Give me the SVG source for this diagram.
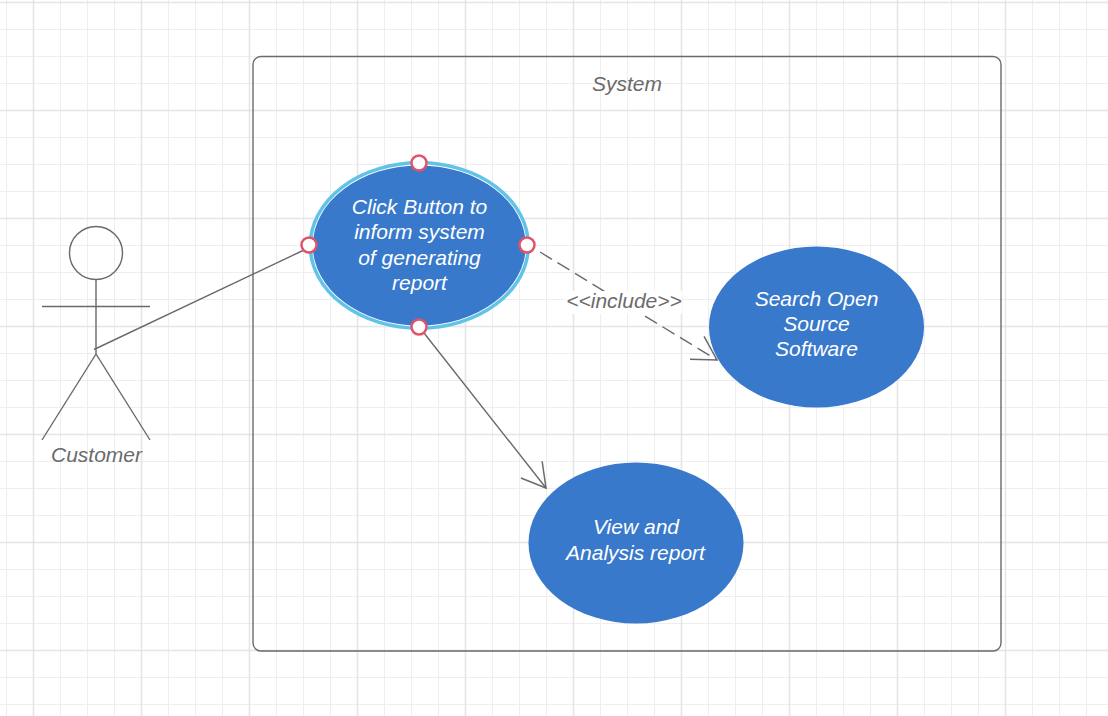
<svg xmlns="http://www.w3.org/2000/svg" width="1108" height="716" viewBox="0 0 1108 716">
<defs>
<pattern id="minor" x="-7" y="-11" width="27" height="27" patternUnits="userSpaceOnUse"><path d="M13.500 0V27M0 13.500H27" fill="none" stroke="#eeeeee" stroke-width="1"/></pattern>
<pattern id="major" x="-20.500" y="-51.500" width="108" height="108" patternUnits="userSpaceOnUse"><path d="M54 0V108M0 54H108" fill="none" stroke="#dedede" stroke-width="1"/></pattern>
<marker id="open" markerUnits="userSpaceOnUse" markerWidth="34" markerHeight="34" refX="29" refY="15" orient="auto" overflow="visible"><path d="M5.600 1.500L29 15L5.600 28.500" fill="none" stroke="#6a6a6a" stroke-width="1.500"/></marker>
</defs>
<style>
text{font-family:"Liberation Sans",Arial,sans-serif;font-style:italic;font-size:21px;text-anchor:middle}
.w{fill:#fff}
.d{fill:#6b6b6b}
.l{fill:none;stroke:#6a6a6a;stroke-width:1.400}
.u{fill:#3879cb}
.h{fill:#fff;stroke:#e0536a;stroke-width:2.500}
</style>
<rect width="1108" height="716" fill="#fff"/>
<g id="grid"><rect width="1108" height="716" fill="url(#minor)"/><rect width="1108" height="716" fill="url(#major)"/></g>
<g id="system"><rect class="l" x="253" y="56.500" width="748" height="594.500" rx="8" ry="8"/><text class="d" x="627" y="91">System</text></g>
<g id="connectors">
<path class="l" d="M94 349.500L303 250.500"/>
<path class="l" d="M424 333L546 488" marker-end="url(#open)"/>
<path class="l" d="M540 252L717 360" stroke-dasharray="14 6.500" marker-end="url(#open)"/>
<rect x="566" y="291" width="116" height="23" fill="#fff"/>
<text class="d" x="624" y="308">&lt;&lt;include&gt;&gt;</text>
</g>
<g id="customer">
<circle class="l" cx="96" cy="253" r="26.500"/>
<path class="l" d="M96 280V354M42 306.500H150M42 440L96 354L150 440"/>
<text class="d" x="96.500" y="462">Customer</text>
</g>
<g id="click-button">
<ellipse cx="419.300" cy="245.500" rx="109" ry="82.700" fill="#fff" stroke="#62c3e9" stroke-width="3.500"/>
<ellipse class="u" cx="419.300" cy="245.500" rx="106.500" ry="80"/>
<text class="w" x="419.500" y="214">Click Button to</text>
<text class="w" x="419.500" y="239">inform system</text>
<text class="w" x="419.500" y="264.500">of generating</text>
<text class="w" x="419.500" y="290">report</text>
<circle class="h" cx="419" cy="163" r="7.500"/>
<circle class="h" cx="309" cy="245" r="7.500"/>
<circle class="h" cx="527" cy="245" r="7.500"/>
<circle class="h" cx="419" cy="327" r="7.500"/>
</g>
<g id="search"><ellipse class="u" cx="816.500" cy="327" rx="107.500" ry="80.500"/>
<text class="w" x="816.500" y="306">Search Open</text><text class="w" x="816.500" y="331">Source</text><text class="w" x="816.500" y="356">Software</text></g>
<g id="view"><ellipse class="u" cx="636" cy="543" rx="107.500" ry="80.500"/>
<text class="w" x="636" y="534">View and</text><text class="w" x="635.500" y="560">Analysis report</text></g>
</svg>
